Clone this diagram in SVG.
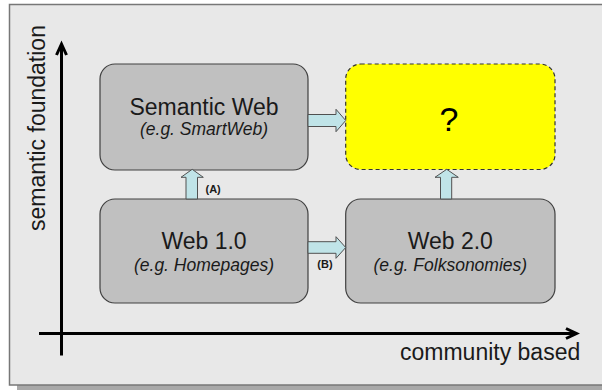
<svg xmlns="http://www.w3.org/2000/svg" width="602" height="390" viewBox="0 0 602 390">
  <style>
    .box { fill: #c0c0c0; stroke: #404040; stroke-width: 1.2; }
    .q { fill: #ffff00; stroke: #333333; stroke-width: 1.2; stroke-dasharray: 4 3; }
    .title { font-family: "Liberation Sans", Arial, sans-serif; font-size: 23px; fill: #1a1a1a; text-anchor: middle; }
    .sub { font-family: "Liberation Sans", Arial, sans-serif; font-size: 17.5px; font-style: italic; fill: #1a1a1a; text-anchor: middle; }
    .blk { fill: #c0e4e8; stroke: #505050; stroke-width: 1; }
    .lbl { font-family: "Liberation Sans", Arial, sans-serif; font-size: 11px; font-weight: bold; fill: #1a1a1a; }
    .axis { fill: none; stroke: #000; stroke-width: 3; }
    .axt { font-family: "Liberation Sans", Arial, sans-serif; font-size: 23px; fill: #1a1a1a; }
  </style>
  <rect x="0" y="0" width="602" height="390" fill="#ffffff"/>
  <rect x="17" y="385" width="590" height="5" fill="#a8a8a8"/>
  <rect x="9.5" y="4.5" width="600" height="380.5" fill="#e8e8e8" stroke="#777777" stroke-width="1.5"/>

  <g id="axes">
    <line class="axis" x1="61.5" y1="355.5" x2="61.5" y2="44.5"/>
    <polyline class="axis" points="56.5,55 61.5,44 66.5,55"/>
    <line class="axis" x1="39" y1="333.5" x2="575" y2="333.5"/>
    <polyline class="axis" points="566,328.5 576.5,333.5 566,338.5"/>
    <text class="axt" text-anchor="middle" transform="translate(45,128) rotate(-90)">semantic foundation</text>
    <text class="axt" x="400" y="360">community based</text>
  </g>

  <g id="semantic-web">
    <rect class="box" x="100" y="64" width="208" height="106" rx="15" ry="15"/>
    <text class="title" x="204" y="115">Semantic Web</text>
    <text class="sub" x="204" y="134.5">(e.g. SmartWeb)</text>
  </g>
  <g id="unknown">
    <rect class="q" x="345.7" y="64" width="209.3" height="105.5" rx="15" ry="15"/>
    <text x="449" y="130.5" font-family="Liberation Sans, Arial, sans-serif" font-size="34" fill="#000" text-anchor="middle">?</text>
  </g>
  <g id="web10">
    <rect class="box" x="100" y="199" width="208" height="104" rx="15" ry="15"/>
    <text class="title" x="204" y="249.3">Web 1.0</text>
    <text class="sub" x="204" y="271.3">(e.g. Homepages)</text>
  </g>
  <g id="web20">
    <rect class="box" x="345.7" y="199" width="209.3" height="104" rx="15" ry="15"/>
    <text class="title" x="450.3" y="249.3">Web 2.0</text>
    <text class="sub" x="450.3" y="271.3">(e.g. Folksonomies)</text>
  </g>

  <g id="connectors">
    <path class="blk" d="M186,199 V177.3 H181 L192.2,169.3 L203.3,177.3 H197.5 V199 Z"/>
    <path class="blk" d="M308,114.5 H336 V109.3 L345.7,120.5 L336,131.7 V126.5 H308 Z"/>
    <path class="blk" d="M308,241.7 H336 V236.7 L345.7,247.5 L336,258.3 V253.3 H308 Z"/>
    <path class="blk" d="M440.5,199 V177.3 H435 L446.7,169.3 L458.3,177.3 H451.7 V199 Z"/>
    <text class="lbl" x="205.5" y="193">(A)</text>
    <text class="lbl" x="317.3" y="268.3">(B)</text>
  </g>
</svg>
